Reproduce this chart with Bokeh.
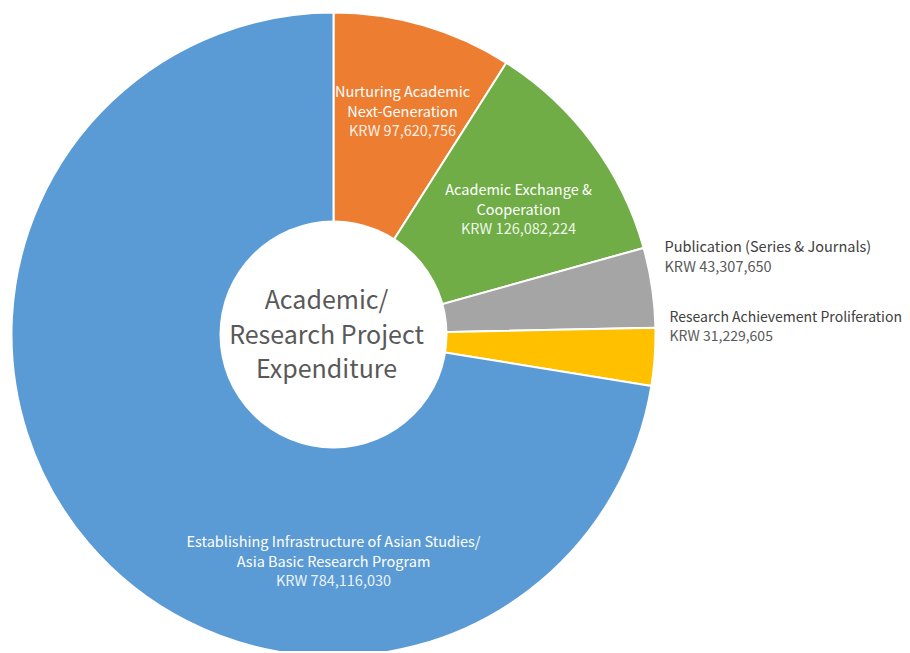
import numpy as np
from bokeh.plotting import figure
from bokeh.models import Range1d
from bokeh.core.properties import value
from bokeh.embed import file_html
from bokeh.resources import INLINE

# ---- data ----
categories = [
    "Nurturing Academic Next-Generation",
    "Academic Exchange & Cooperation",
    "Publication (Series & Journals)",
    "Research Achievement Proliferation",
    "Establishing Infrastructure of Asian Studies/ Asia Basic Research Program",
]
label_lines = [
    ["Nurturing Academic", "Next-Generation"],
    ["Academic Exchange &", "Cooperation"],
    ["Publication (Series & Journals)"],
    ["Research Achievement Proliferation"],
    ["Establishing Infrastructure of Asian Studies/", "Asia Basic Research Program"],
]
amounts = [97620756, 126082224, 43307650, 31229605, 784116030]
colors = ["#ED7D31", "#70AD47", "#A5A5A5", "#FFC000", "#5B9BD5"]
center_title = ["Academic/", "Research Project", "Expenditure"]

# ---- layout (screen-pixel based coordinates, y up) ----
W, H = 908, 651
def Y(sy):
    return 653 - sy

cx, cy = 333, Y(334)
R_OUT, R_IN = 322, 114

p = figure(width=W, height=H, output_backend="svg", toolbar_location=None,
           x_range=Range1d(0, W), y_range=Range1d(653 - H, 653),
           min_border=0, outline_line_color=None)
p.axis.visible = False
p.grid.visible = False
p.background_fill_color = "white"
p.border_fill_color = "white"

vals = np.array(amounts, dtype=float)
frac = vals / vals.sum()
cum = np.concatenate([[0], np.cumsum(frac)])
starts = np.pi / 2 - cum[:-1] * 2 * np.pi
ends = np.pi / 2 - cum[1:] * 2 * np.pi

p.annular_wedge(x=cx, y=cy, inner_radius=0, outer_radius=R_OUT,
                start_angle=list(starts), end_angle=list(ends), direction="clock",
                fill_color=colors, line_color="white", line_width=2)
p.circle(x=[cx], y=[cy], radius=R_IN, fill_color="white", line_color=None)

FONT = value("Noto Sans CJK KR")
values_txt = ["KRW {:,}".format(a) for a in amounts]

# label anchors: (x, first line screen y, align, inside?, font size)
anchors = [
    (402, 90, "center", True, "14.5px"),
    (518, 188, "center", True, "14.5px"),
    (664, 245, "left", False, "14.5px"),
    (669, 315, "left", False, "14px"),
    (333, 540, "center", True, "14.5px"),
]
step = 19.5
for lines, vtxt, (ax, ay, align, inside, fs) in zip(label_lines, values_txt, anchors):
    xs, ys, ts = [], [], []
    for i, ln in enumerate(lines):
        xs.append(ax); ys.append(Y(ay + i * step)); ts.append(ln)
    p.text(x=xs, y=ys, text=ts, text_align=align, text_baseline="middle",
           text_font=FONT, text_font_size=fs,
           text_color="white" if inside else "#404040")
    p.text(x=[ax], y=[Y(ay + len(lines) * step)], text=[vtxt], text_align=align,
           text_baseline="middle", text_font=FONT, text_font_size=fs,
           text_color="white" if inside else "#595959",
           text_alpha=0.9 if inside else 1.0)

p.text(x=[326] * 3, y=[Y(297), Y(332), Y(366)], text=center_title,
       text_align="center", text_baseline="middle", text_font=FONT,
       text_font_size="25px", text_color="#595959")

open("out.html", "w").write(file_html(p, INLINE))
